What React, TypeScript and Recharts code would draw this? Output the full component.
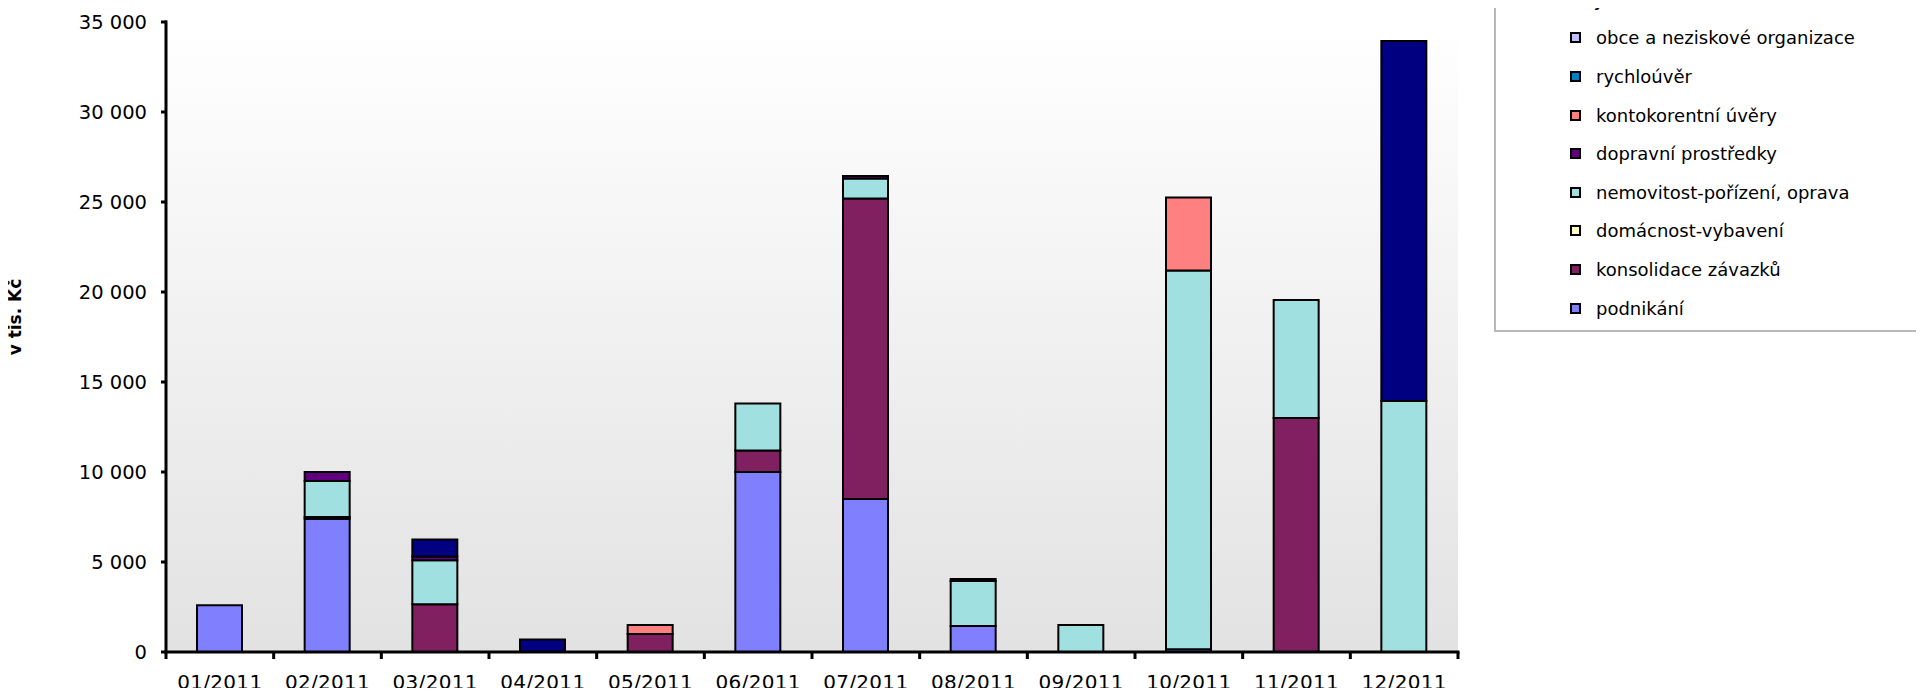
import { BarChart, Bar, XAxis, YAxis, CartesianGrid, Legend, Label } from 'recharts';

const FONT = '"DejaVu Sans", Verdana, sans-serif';

const MONTHS = ['01/2011', '02/2011', '03/2011', '04/2011', '05/2011', '06/2011', '07/2011', '08/2011', '09/2011', '10/2011', '11/2011', '12/2011'];

const PODNIKANI = [2600, 7400, 0, 0, 0, 10000, 8500, 1450, 0, 150, 0, 0];
const KONSOLIDACE = [0, 100, 2650, 0, 1000, 1200, 16700, 0, 0, 0, 13000, 0];
const DOMACNOST = [0, 0, 0, 0, 0, 0, 0, 0, 0, 0, 0, 0];
const NEMOVITOST = [0, 2000, 2450, 0, 0, 2600, 1100, 2500, 1500, 21050, 6550, 13950];
const DOPRAVNI = [0, 500, 200, 0, 0, 0, 150, 100, 0, 0, 0, 0];
const KONTOKORENT = [0, 0, 0, 0, 500, 0, 0, 0, 0, 4050, 0, 0];
const RYCHLOUVER = [0, 0, 0, 0, 0, 0, 0, 0, 0, 0, 0, 0];
const OBCE = [0, 0, 0, 0, 0, 0, 0, 0, 0, 0, 0, 0];
const JINE = [0, 0, 950, 700, 0, 0, 0, 0, 0, 0, 0, 20000];

const Y_TICKS = [0, 5000, 10000, 15000, 20000, 25000, 30000, 35000];

// stack order bottom -> top
const SERIES = [
  { key: 'podnikani', name: 'podnikání', color: '#8080FF', values: PODNIKANI },
  { key: 'konsolidace', name: 'konsolidace závazků', color: '#802060', values: KONSOLIDACE },
  { key: 'domacnost', name: 'domácnost-vybavení', color: '#FFFFC0', values: DOMACNOST },
  { key: 'nemovitost', name: 'nemovitost-pořízení, oprava', color: '#A0E0E0', values: NEMOVITOST },
  { key: 'dopravni', name: 'dopravní prostředky', color: '#600080', values: DOPRAVNI },
  { key: 'kontokorent', name: 'kontokorentní úvěry', color: '#FF8080', values: KONTOKORENT },
  { key: 'rychlouver', name: 'rychloúvěr', color: '#0080C0', values: RYCHLOUVER },
  { key: 'obce', name: 'obce a neziskové organizace', color: '#C0C0FF', values: OBCE },
  { key: 'jine', name: 'Jiné', color: '#000080', values: JINE },
];

const data = MONTHS.map((month, i) => {
  const row: Record<string, string | number> = { month };
  SERIES.forEach((s) => { row[s.key] = s.values[i]; });
  return row;
});

const fmt = (v: number) => String(v).replace(/\B(?=(\d{3})+(?!\d))/g, ' ');

// month label plus Excel-style tick marks on the category boundaries
function MonthTick(props: any) {
  const { x, y, payload, index, width, visibleTicksCount } = props;
  const half = payload?.offset > 0 ? payload.offset : (width || 1292) / ((visibleTicksCount || 12) * 2);
  return (
    <g>
      {index === 0 && <rect x={x - half - 1.5} y={y - 23} width={3} height={7} fill="#000" />}
      <rect x={x + half - 1.5} y={y - 23} width={3} height={7} fill="#000" />
      <text x={x} y={y} dy="0.71em" textAnchor="middle" fill="#000" fontSize={20} fontFamily={FONT} letterSpacing={0.3}>
        {payload.value}
      </text>
    </g>
  );
}

function ValueTick(props: any) {
  const { x, y, payload } = props;
  return (
    <g>
      <rect x={x + 14} y={y - 1.5} width={6} height={3} fill="#000" />
      <text x={x} y={y} dy="0.355em" textAnchor="end" fill="#000" fontSize={19.5} fontFamily={FONT}>
        {fmt(payload.value)}
      </text>
    </g>
  );
}

function LegendBox() {
  return (
    <div style={{
      background: '#fff',
      borderLeft: '2px solid #b8b8b8',
      borderBottom: '2px solid #b8b8b8',
      paddingTop: 10,
      paddingBottom: 3,
      fontFamily: FONT,
      fontSize: 18,
      color: '#000',
    }}>
      {[...SERIES].reverse().map((s) => (
        <div key={s.key} style={{ display: 'flex', alignItems: 'center', height: 38.6, whiteSpace: 'nowrap' }}>
          <span style={{
            display: 'inline-block', boxSizing: 'border-box', width: 11, height: 11,
            background: s.color, border: '2px solid #000', marginLeft: 74, marginRight: 15,
          }} />
          <span>{s.name}</span>
        </div>
      ))}
    </div>
  );
}

export default function App() {
  return (
    <div style={{ margin: -8, width: 1924, height: 696, overflow: 'hidden', background: '#fff', position: 'relative' }}>
      <BarChart width={1924} height={696} data={data} margin={{ top: 22, right: 466, bottom: 0, left: 0 }}>
        <defs>
          <linearGradient id="plotBg" x1="0" y1="0" x2="0" y2="1">
            <stop offset="0%" stopColor="#ffffff" />
            <stop offset="100%" stopColor="#e2e2e2" />
          </linearGradient>
        </defs>
        <CartesianGrid horizontal={false} vertical={false} fill="url(#plotBg)" />
        <XAxis
          dataKey="month"
          interval={0}
          height={44}
          axisLine={false}
          tickLine={false}
          tickSize={0}
          tickMargin={23}
          tick={<MonthTick />}
        >
          <Label
            content={({ viewBox }: any) => (
              <rect x={viewBox.x - 1.5} y={viewBox.y - 1.5} width={viewBox.width + 3} height={3} fill="#000" />
            )}
          />
        </XAxis>
        <YAxis
          domain={[0, 35000]}
          ticks={Y_TICKS}
          interval={0}
          width={166}
          axisLine={false}
          tickLine={false}
          tickSize={5}
          tickMargin={14}
          tick={<ValueTick />}
        >
          <Label
            content={({ viewBox }: any) => (
              <g>
                <rect x={viewBox.x + viewBox.width - 1.5} y={viewBox.y - 1.5} width={3} height={viewBox.height + 3} fill="#000" />
                <text x={15} y={317} transform="rotate(-90 15 317)" textAnchor="middle" dominantBaseline="central"
                  fontFamily={FONT} fontSize={17} fontWeight="bold" fill="#000">
                  v tis. Kč
                </text>
              </g>
            )}
          />
        </YAxis>
        <Legend
          layout="vertical"
          align="center"
          verticalAlign="middle"
          content={() => <LegendBox />}
          wrapperStyle={{ left: 1494, top: -30, width: 430, margin: 0 }}
        />
        {SERIES.map((s) => (
          <Bar
            key={s.key}
            dataKey={s.key}
            name={s.name}
            stackId="a"
            fill={s.color}
            stroke="#000"
            strokeWidth={2}
            barSize={45}
            isAnimationActive={false}
          />
        ))}
      </BarChart>
    </div>
  );
}
